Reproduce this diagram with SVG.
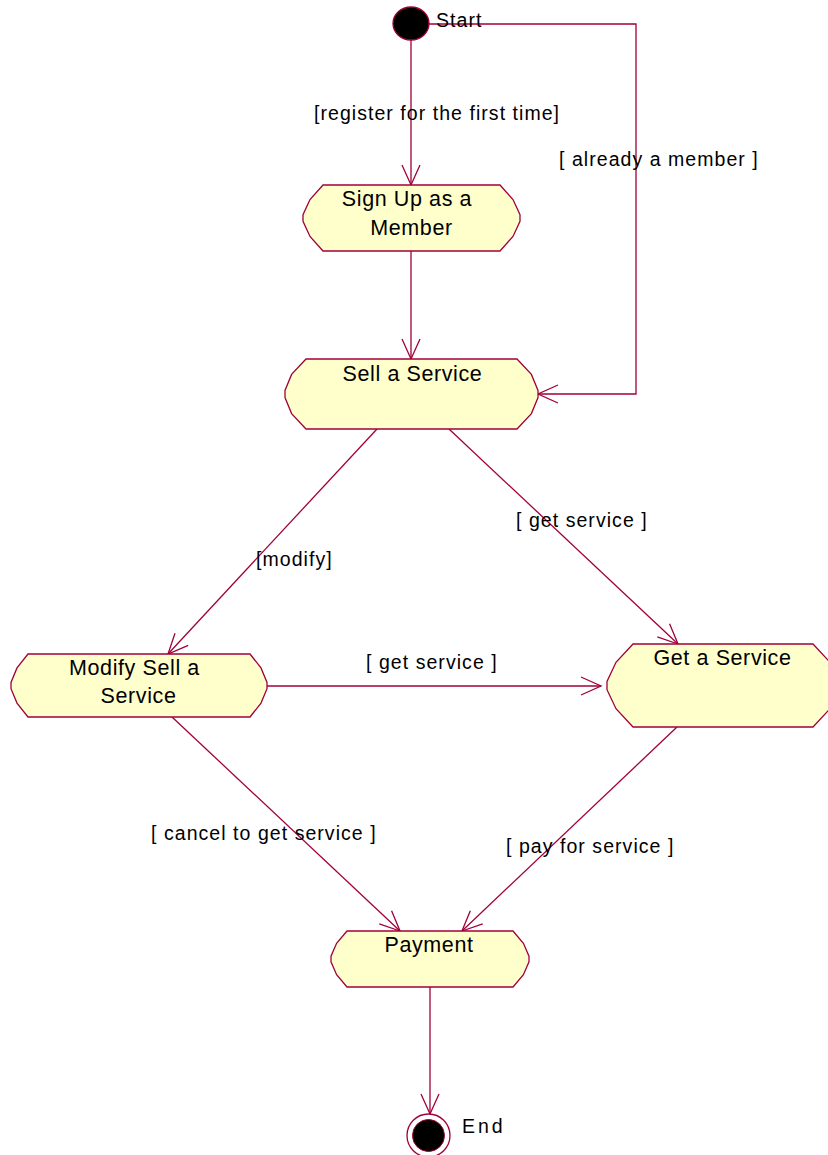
<svg xmlns="http://www.w3.org/2000/svg" width="828" height="1155" viewBox="0 0 828 1155">
<style>
.node{fill:#ffffcc;stroke:#a0003a;stroke-width:1.3}
.edge{fill:none;stroke:#a0003a;stroke-width:1.3}
.nl{font-family:"Liberation Sans",Arial,sans-serif;font-size:21.5px;letter-spacing:0.6px;fill:#000;text-anchor:middle}
.el{font-family:"Liberation Sans",Arial,sans-serif;font-size:19.5px;letter-spacing:1.05px;fill:#000}
</style>
<defs>
<marker id="arr" markerUnits="userSpaceOnUse" viewBox="-22 -11 24 22" refX="0" refY="0" markerWidth="24" markerHeight="22" orient="auto" overflow="visible">
<path d="M-20,-9 L0,0 L-20,9" fill="none" stroke="#a0003a" stroke-width="1.3"/>
</marker>
</defs>
<rect width="828" height="1155" fill="#fff"/>
<g id="connectors">
<path class="edge" d="M411,40 L411,185" marker-end="url(#arr)"/>
<path class="edge" d="M411,251 L411,359" marker-end="url(#arr)"/>
<path class="edge" d="M429,24 L636,24 L636,394 L538,394" marker-end="url(#arr)"/>
<path class="edge" d="M377,429 L168,654" marker-end="url(#arr)"/>
<path class="edge" d="M449,429 L678,644" marker-end="url(#arr)"/>
<path class="edge" d="M267,686 L601,686" marker-end="url(#arr)"/>
<path class="edge" d="M172,717 L400,931" marker-end="url(#arr)"/>
<path class="edge" d="M677,727 L462,931" marker-end="url(#arr)"/>
<path class="edge" d="M430,987 L430,1114" marker-end="url(#arr)"/>
<text class="el" x="314" y="120">[register for the first time]</text>
<text class="el" x="559" y="166">[ already a member ]</text>
<text class="el" x="516" y="527">[ get service ]</text>
<text class="el" x="256" y="566">[modify]</text>
<text class="el" x="366" y="669">[ get service ]</text>
<text class="el" x="151" y="840">[ cancel to get service ]</text>
<text class="el" x="506" y="853">[ pay for service ]</text>
</g>
<g id="start">
<ellipse cx="411" cy="23.5" rx="18" ry="16.5" fill="#000" stroke="#a0003a" stroke-width="1.3"/>
<text class="el" x="436" y="27">Start</text>
</g>
<g id="signup">
<polygon class="node" points="323,185 500,185 513,199.5 520,214.7 520,221.3 513,236.5 500,251 323,251 310,236.5 303,221.3 303,214.7 310,199.5"/>
<text class="nl" x="407" y="206">Sign Up as a</text>
<text class="nl" x="411.5" y="235">Member</text>
</g>
<g id="sell">
<polygon class="node" points="306,359 517,359 531.4,374.4 538,390.5 538,397.5 531.4,413.6 517,429 306,429 291.6,413.6 285,397.5 285,390.5 291.6,374.4"/>
<text class="nl" x="412.5" y="381">Sell a Service</text>
</g>
<g id="modify">
<polygon class="node" points="28,654 250,654 261,667.9 267,682.4 267,688.7 261,703.1 250,717 28,717 17,703.1 11,688.7 11,682.4 17,667.9"/>
<text class="nl" x="134.5" y="675">Modify Sell a</text>
<text class="nl" x="138.5" y="703">Service</text>
</g>
<g id="get">
<polygon class="node" points="633,644 813,644 830,662.3 839,681.4 839,689.7 830,708.7 813,727 633,727 616,708.7 607,689.7 607,681.4 616,662.3"/>
<text class="nl" x="722.5" y="665">Get a Service</text>
</g>
<g id="payment">
<polygon class="node" points="347,931 513,931 523.4,943.3 529,956.2 529,961.8 523.4,974.7 513,987 347,987 336.6,974.7 331,961.8 331,956.2 336.6,943.3"/>
<text class="nl" x="429" y="952">Payment</text>
</g>
<g id="end">
<circle cx="428.5" cy="1135.5" r="21.5" fill="#fff" stroke="#a0003a" stroke-width="1.3"/>
<circle cx="428.5" cy="1135.5" r="16" fill="#000" stroke="#a0003a" stroke-width="1"/>
<text class="el" x="462" y="1133" style="letter-spacing:3px">End</text>
</g>
</svg>
